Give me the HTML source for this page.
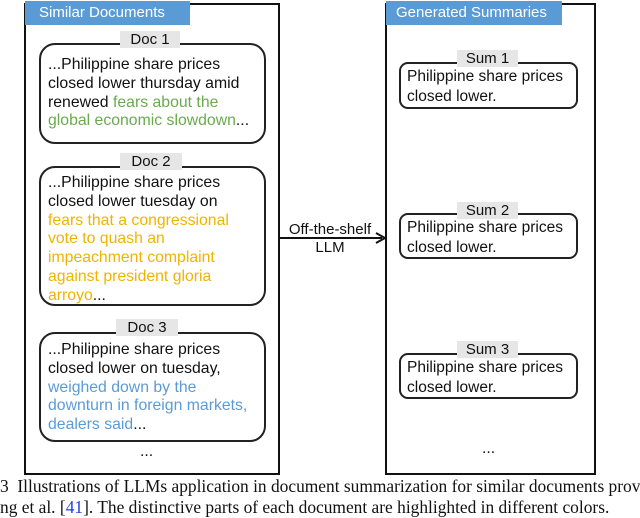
<!DOCTYPE html>
<html><head><style>
body{margin:0;width:640px;height:516px;background:#fff;position:relative;overflow:hidden;font-family:"Liberation Sans",Arial,sans-serif;color:#111}
div{position:absolute;box-sizing:border-box}
.outer{border:2px solid #111}
.tab{background:#5b9bd5;color:#fff;font-size:15px;line-height:24px;padding-left:14px}
.box{border:2px solid #222;border-radius:16px;background:#fff}
.sbox{border:2px solid #222;border-radius:9px;background:#fff}
.lab{background:#e6e6e6;font-size:15px;line-height:17px;text-align:center}
.t{font-size:15.8px;line-height:18.8px;white-space:nowrap}
.s{font-size:15.5px;line-height:19.5px;white-space:nowrap}
.g{color:#6aaa4f}.y{color:#f0b400}.b{color:#5b9bd5}
.cap{font-family:"Liberation Serif",serif;font-size:17.4px;white-space:nowrap;color:#111}
</style></head><body>
<div class="outer" style="left:24px;top:3px;width:256px;height:472px"></div>
<div class="tab" style="left:25px;top:1px;width:165px">Similar Documents</div>
<div class="outer" style="left:385px;top:3px;width:211px;height:472px"></div>
<div class="tab" style="left:386px;top:1px;width:176px;padding-left:10px">Generated Summaries</div>

<div class="box" style="left:39px;top:43px;width:227px;height:101px"></div>
<div class="lab" style="left:120px;top:31px;width:60px">Doc 1</div>
<div class="t" style="left:48px;top:56px">...Philippine share prices<br>closed lower thursday amid<br>renewed <span class="g">fears about the</span><br><span class="g">global economic slowdown</span>...</div>

<div class="box" style="left:39px;top:166px;width:227px;height:140px"></div>
<div class="lab" style="left:120px;top:153px;width:62px">Doc 2</div>
<div class="t" style="left:48px;top:174px">...Philippine share prices<br>closed lower tuesday on<br><span class="y">fears that a congressional</span><br><span class="y">vote to quash an</span><br><span class="y">impeachment complaint</span><br><span class="y">against president gloria</span><br><span class="y">arroyo</span>...</div>

<div class="box" style="left:39px;top:332px;width:227px;height:110px"></div>
<div class="lab" style="left:116px;top:319px;width:62px">Doc 3</div>
<div class="t" style="left:48px;top:341px">...Philippine share prices<br>closed lower on tuesday,<br><span class="b">weighed down by the</span><br><span class="b">downturn in foreign markets,</span><br><span class="b">dealers said</span>...</div>
<div class="t" style="left:140px;top:443px">...</div>

<div class="sbox" style="left:399px;top:62px;width:179px;height:47px"></div>
<div class="lab" style="left:457px;top:50px;width:61px">Sum 1</div>
<div class="s" style="left:407px;top:67px">Philippine share prices<br>closed lower.</div>
<div class="sbox" style="left:399px;top:213px;width:179px;height:46px"></div>
<div class="lab" style="left:457px;top:202px;width:61px">Sum 2</div>
<div class="s" style="left:407px;top:218px">Philippine share prices<br>closed lower.</div>
<div class="sbox" style="left:399px;top:353px;width:179px;height:46px"></div>
<div class="lab" style="left:457px;top:341px;width:61px">Sum 3</div>
<div class="s" style="left:407px;top:358px">Philippine share prices<br>closed lower.</div>
<div class="t" style="left:482px;top:440px">...</div>

<div class="t" style="left:284px;top:221px;text-align:center;width:92px;line-height:18px;font-size:15px">Off-the-shelf<br>LLM</div>
<svg style="position:absolute;left:0;top:0" width="640" height="516"><line x1="280" y1="238" x2="382" y2="238" stroke="#111" stroke-width="2"/><path d="M376,233 L385,238 L376,243" fill="none" stroke="#111" stroke-width="2"/></svg>

<div class="cap" style="left:0;top:476px">3&nbsp;&nbsp;Illustrations of LLMs application in document summarization for similar documents prov</div>
<div class="cap" style="left:0;top:497px">ng et al. [<span style="color:#2040e0">41</span>]. The distinctive parts of each document are highlighted in different colors.</div>
</body></html>
